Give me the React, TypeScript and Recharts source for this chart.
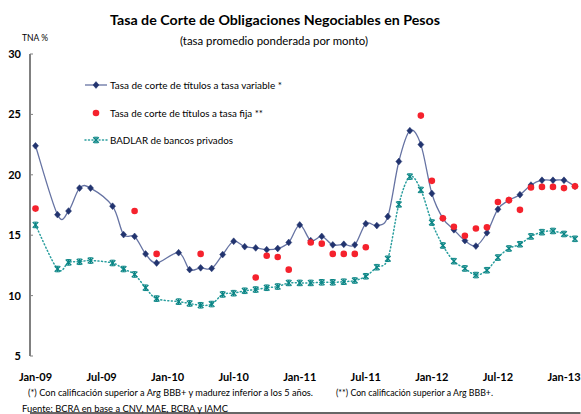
import React from 'react';
import { LineChart, Line, XAxis, YAxis } from 'recharts';

const months = [
  'Jan-09', 'Feb-09', 'Mar-09', 'Apr-09', 'May-09', 'Jun-09', 'Jul-09', 'Aug-09', 'Sep-09', 'Oct-09', 'Nov-09', 'Dec-09',
  'Jan-10', 'Feb-10', 'Mar-10', 'Apr-10', 'May-10', 'Jun-10', 'Jul-10', 'Aug-10', 'Sep-10', 'Oct-10', 'Nov-10', 'Dec-10',
  'Jan-11', 'Feb-11', 'Mar-11', 'Apr-11', 'May-11', 'Jun-11', 'Jul-11', 'Aug-11', 'Sep-11', 'Oct-11', 'Nov-11', 'Dec-11',
  'Jan-12', 'Feb-12', 'Mar-12', 'Apr-12', 'May-12', 'Jun-12', 'Jul-12', 'Aug-12', 'Sep-12', 'Oct-12', 'Nov-12', 'Dec-12',
  'Jan-13', 'Feb-13',
];

// Tasa de corte de títulos a tasa variable
const variableRate: (number | null)[] = [
  22.4, null, 16.7, 17.0, 18.9, 18.9, null, 17.4, 15.05, 14.9, 13.45, 12.7,
  null, 13.55, 12.15, 12.3, 12.25, 13.4, 14.5, 14.05, 13.95, 13.8, 13.9, 14.4,
  15.85, 14.55, 14.9, 14.2, 14.25, 14.2, 15.95, 15.8, 16.55, 21.1, 23.65, 22.5,
  18.45, 16.4, 15.45, 14.55, 14.1, 15.2, 17.15, 17.9, 18.35, 19.15, 19.55, 19.55,
  19.55, 19.05,
];

// Tasa de corte de títulos a tasa fija
const fixedRate: (number | null)[] = [
  17.2, null, null, null, null, null, null, null, null, 17.0, null, 13.45,
  null, null, null, 13.45, null, null, null, null, 11.5, 13.3, 13.2, 12.15,
  null, 14.4, 14.3, 13.45, 13.45, 13.45, 14.0, null, null, null, null, 24.9,
  19.5, 16.4, 15.7, 14.95, 15.55, 15.65, 17.75, 17.9, 17.1, 18.95, 19.0, 19.0,
  18.9, 19.05,
];

// BADLAR de bancos privados
const badlar: (number | null)[] = [
  15.85, null, 12.2, 12.75, 12.8, 12.9, null, 12.7, 12.2, 11.75, 10.65, 9.75,
  null, 9.5, 9.35, 9.2, 9.3, 10.1, 10.2, 10.4, 10.5, 10.65, 10.75, 11.05,
  11.05, 11.05, 11.1, 11.1, 11.15, 11.25, 11.6, 12.35, 13.05, 17.55, 19.85, 18.75,
  16.05, 14.15, 12.85, 12.25, 11.7, 12.1, 13.15, 13.9, 14.25, 14.9, 15.25, 15.35,
  15.1, 14.7,
];

const yTicks = [5, 10, 15, 20, 25, 30];
const xLabelTicks = [0, 6, 12, 18, 24, 30, 36, 42, 48];

const data = months.map((m, i) => ({
  idx: i,
  month: m,
  variable: variableRate[i],
  fixed: fixedRate[i],
  badlar: badlar[i],
}));

const FONT = "Lato, 'DejaVu Sans', sans-serif";
const NAVY = '#22346F';
const NAVY_LINE = '#6673A3';
const RED = '#F5222D';
const TEAL = '#0A8585';
const TEAL_LINE = '#2A9E9E';

// Excel-like smoothed line (Catmull-Rom through points)
const smoothCurve: any = (context: any) => {
  let pts: [number, number][] = [];
  return {
    areaStart() {},
    areaEnd() {},
    lineStart() {
      pts = [];
    },
    lineEnd() {
      if (!pts.length) return;
      context.moveTo(pts[0][0], pts[0][1]);
      for (let i = 0; i < pts.length - 1; i++) {
        const p0 = pts[i - 1] || pts[i];
        const p1 = pts[i];
        const p2 = pts[i + 1];
        const p3 = pts[i + 2] || p2;
        context.bezierCurveTo(
          p1[0] + (p2[0] - p0[0]) / 6,
          p1[1] + (p2[1] - p0[1]) / 6,
          p2[0] - (p3[0] - p1[0]) / 6,
          p2[1] - (p3[1] - p1[1]) / 6,
          p2[0],
          p2[1]
        );
      }
    },
    point(x: number, y: number) {
      pts.push([+x, +y]);
    },
  };
};

const DiamondDot = (props: any) => {
  const { cx, cy, index } = props;
  if (cx == null || cy == null || props.value == null) return <g key={`vd-${index}`} />;
  return (
    <path
      key={`vd-${index}`}
      d={`M${cx},${cy - 3.4} L${cx + 3},${cy} L${cx},${cy + 3.4} L${cx - 3},${cy} Z`}
      fill={NAVY}
      stroke={NAVY}
      strokeWidth={0.5}
    />
  );
};

const RedDot = (props: any) => {
  const { cx, cy, index } = props;
  if (cx == null || cy == null || props.value == null) return <g key={`rd-${index}`} />;
  return <circle key={`rd-${index}`} cx={cx} cy={cy} r={3.3} fill={RED} />;
};

const StarDot = (props: any) => {
  const { cx, cy, index } = props;
  if (cx == null || cy == null || props.value == null) return <g key={`sd-${index}`} />;
  const s = 2.8;
  return (
    <g key={`sd-${index}`} stroke={TEAL} strokeWidth={1.3}>
      <line x1={cx - s} y1={cy - s} x2={cx + s} y2={cy + s} />
      <line x1={cx - s} y1={cy + s} x2={cx + s} y2={cy - s} />
      <line x1={cx} y1={cy - s} x2={cx} y2={cy + s} />
      <line x1={cx - s * 0.7} y1={cy - s} x2={cx + s * 0.7} y2={cy - s} strokeWidth={1} />
      <line x1={cx - s * 0.7} y1={cy + s} x2={cx + s * 0.7} y2={cy + s} strokeWidth={1} />
    </g>
  );
};

const Overlay = () => (
  <svg
    width={581}
    height={414}
    style={{ position: 'absolute', left: 0, top: 0, pointerEvents: 'none' }}
    fontFamily={FONT}
  >
    <text x={275} y={25} textAnchor="middle" fontSize={14} fontWeight={700} fill="#000" textLength={330} lengthAdjust="spacingAndGlyphs">
      Tasa de Corte de Obligaciones Negociables en Pesos
    </text>
    <text x={274} y={45} textAnchor="middle" fontSize={12} fill="#000" textLength={188} lengthAdjust="spacingAndGlyphs">
      (tasa promedio ponderada por monto)
    </text>
    <text x={22} y={41} fontSize={9} fill="#000" textLength={26} lengthAdjust="spacingAndGlyphs">
      TNA %
    </text>

    {/* legend */}
    <line x1={85} y1={85} x2={107} y2={85} stroke={NAVY_LINE} strokeWidth={1.3} />
    <DiamondDot cx={96} cy={85} value={1} index="l1" />
    <text x={110} y={88.5} fontSize={10} fill="#000" textLength={172} lengthAdjust="spacingAndGlyphs">
      Tasa de corte de títulos a tasa variable *
    </text>
    <RedDot cx={96} cy={113} value={1} index="l2" />
    <text x={110} y={116.5} fontSize={10} fill="#000" textLength={153} lengthAdjust="spacingAndGlyphs">
      Tasa de corte de títulos a tasa fija **
    </text>
    <line x1={85} y1={140} x2={107} y2={140} stroke={TEAL_LINE} strokeWidth={1.5} strokeDasharray="1 2.5" strokeLinecap="round" />
    <StarDot cx={96} cy={140} value={1} index="l3" />
    <text x={110} y={143.5} fontSize={10} fill="#000" textLength={123} lengthAdjust="spacingAndGlyphs">
      BADLAR de bancos privados
    </text>

    {/* footnotes */}
    <text x={28} y={396} fontSize={9} fill="#000" textLength={285} lengthAdjust="spacingAndGlyphs">
      (*) Con calificación superior a Arg BBB+ y madurez inferior a los 5 años.
    </text>
    <text x={336} y={396} fontSize={9} fill="#000" textLength={157} lengthAdjust="spacingAndGlyphs">
      (**) Con calificación superior a Arg BBB+.
    </text>
    <text x={22} y={411.5} fontSize={9} fill="#000" textLength={206} lengthAdjust="spacingAndGlyphs">
      Fuente: BCRA en base a CNV, MAE, BCBA y IAMC
    </text>
  </svg>
);

export default function App() {
  return (
    <div style={{ position: 'absolute', left: 0, top: 0, width: 581, height: 414, background: '#fff', overflow: 'hidden' }}>
      <LineChart
        width={581}
        height={414}
        data={data}
        margin={{ top: 54, right: 0.5, bottom: 0, left: 0 }}
      >
        <XAxis
          xAxisId="marks"
          dataKey="idx"
          type="number"
          domain={[-0.5, 49.5]}
          allowDataOverflow
          ticks={xLabelTicks.slice(1).map((t) => t - 0.5)}
          interval={0}
          height={1}
          tick={false}
          tickSize={-3}
          tickLine={{ stroke: '#333', strokeWidth: 1 }}
          axisLine={{ stroke: '#333', strokeWidth: 1.6 }}
        />
        <XAxis
          xAxisId="lab"
          dataKey="idx"
          type="number"
          domain={[-0.5, 49.5]}
          allowDataOverflow
          ticks={xLabelTicks}
          interval={0}
          height={57}
          tickLine={false}
          axisLine={false}
          tickSize={0}
          tickMargin={17}
          tickFormatter={(v: number) => months[v]}
          tick={{ fontSize: 11, fontWeight: 700, fill: '#000', fontFamily: FONT }}
        />
        <YAxis
          domain={[5, 30]}
          ticks={yTicks}
          interval={0}
          width={30}
          allowDataOverflow
          tickSize={-3}
          tickMargin={12}
          tickLine={{ stroke: '#808080', strokeWidth: 1 }}
          axisLine={{ stroke: '#808080', strokeWidth: 2 }}
          tick={{ fontSize: 11, fontWeight: 700, fill: '#000', fontFamily: FONT }}
        />
        <Line
          xAxisId="lab"
          dataKey="variable"
          type={smoothCurve}
          stroke={NAVY_LINE}
          strokeWidth={1.3}
          connectNulls
          dot={DiamondDot}
          activeDot={false}
          isAnimationActive={false}
        />
        <Line
          xAxisId="lab"
          dataKey="badlar"
          type={smoothCurve}
          stroke={TEAL_LINE}
          strokeWidth={1.5}
          strokeDasharray="1 2.5"
          strokeLinecap="round"
          connectNulls
          dot={StarDot}
          activeDot={false}
          isAnimationActive={false}
        />
        <Line
          xAxisId="lab"
          dataKey="fixed"
          type="linear"
          stroke="none"
          dot={RedDot}
          activeDot={false}
          isAnimationActive={false}
        />
      </LineChart>
      <Overlay />
    </div>
  );
}
